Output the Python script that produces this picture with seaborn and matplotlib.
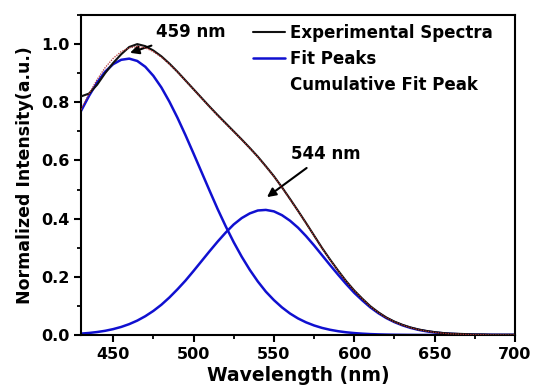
import numpy as np
import pandas as pd
import matplotlib
matplotlib.use("Agg")
import matplotlib.pyplot as plt
import seaborn as sns
from matplotlib.lines import Line2D
from matplotlib.ticker import MultipleLocator

wavelength = list(range(430, 705, 5))

experimental = [0.820, 0.830, 0.860, 0.900, 0.935, 0.965, 0.990, 1.000, 0.993, 0.978,
                0.958, 0.933, 0.905, 0.875, 0.845, 0.815, 0.785, 0.756, 0.728, 0.700,
                0.672, 0.643, 0.613, 0.580, 0.546, 0.508, 0.468, 0.427, 0.385, 0.342,
                0.299, 0.259, 0.221, 0.185, 0.153, 0.125, 0.099, 0.078, 0.060, 0.046,
                0.035, 0.026, 0.019, 0.014, 0.010, 0.007, 0.005, 0.004, 0.003, 0.002,
                0.002, 0.001, 0.001, 0.001, 0.001]

peak1 = [0.770, 0.822, 0.868, 0.905, 0.931, 0.946, 0.950, 0.942, 0.922, 0.891,
         0.851, 0.802, 0.747, 0.687, 0.624, 0.560, 0.496, 0.433, 0.374, 0.319,
         0.269, 0.224, 0.184, 0.149, 0.120, 0.095, 0.074, 0.057, 0.0435, 0.0328,
         0.0243, 0.0179, 0.0130, 0.0093, 0.0066, 0.0046, 0.0031, 0.0021, 0.0014, 0.0009,
         0.0006, 0.0004, 0.0002, 0.0001, 0.0001, 0.0, 0.0, 0.0, 0.0, 0.0,
         0.0, 0.0, 0.0, 0.0, 0.0]

peak2 = [0.0048, 0.0070, 0.0102, 0.0144, 0.0202, 0.0277, 0.0374, 0.0495, 0.0646, 0.0827,
         0.104, 0.129, 0.157, 0.187, 0.220, 0.254, 0.288, 0.321, 0.352, 0.380,
         0.402, 0.418, 0.428, 0.430, 0.425, 0.412, 0.393, 0.369, 0.340, 0.308,
         0.274, 0.240, 0.207, 0.175, 0.145, 0.119, 0.095, 0.075, 0.058, 0.0443,
         0.0332, 0.0245, 0.0177, 0.0126, 0.0088, 0.0060, 0.0041, 0.0027, 0.0018, 0.0011,
         0.0007, 0.0004, 0.0002, 0.0001, 0.0001]

cumulative = [0.775, 0.829, 0.878, 0.919, 0.951, 0.974, 0.987, 0.992, 0.987, 0.974,
              0.955, 0.931, 0.904, 0.874, 0.844, 0.814, 0.784, 0.754, 0.726, 0.699,
              0.671, 0.642, 0.612, 0.579, 0.545, 0.507, 0.467, 0.426, 0.384, 0.341,
              0.298, 0.258, 0.220, 0.184, 0.152, 0.124, 0.098, 0.077, 0.059, 0.045,
              0.034, 0.025, 0.018, 0.013, 0.009, 0.006, 0.004, 0.003, 0.002, 0.001,
              0.001, 0.0, 0.0, 0.0, 0.0]

legend_labels = ["Experimental Spectra", "Fit Peaks", "Cumulative Fit Peak"]
x_ticks = [450, 500, 550, 600, 650, 700]
y_ticks = [0.0, 0.2, 0.4, 0.6, 0.8, 1.0]

sns.set_style("ticks")
plt.rcParams['font.family'] = ['DejaVu Sans']
plt.rcParams['font.weight'] = 'bold'
for k in ['text.color', 'axes.labelcolor', 'xtick.color', 'ytick.color']:
    plt.rcParams[k] = 'black'

fig = plt.figure(figsize=(5.35, 3.92), dpi=100)
ax = fig.add_axes([81/535, 57/392, 434/535, 320/392])

df = pd.DataFrame({"wl": wavelength, "exp": experimental, "p1": peak1,
                   "p2": peak2, "cum": cumulative})

sns.lineplot(data=df, x="wl", y="p1", ax=ax, color="#1010d0", lw=1.8, zorder=2)
sns.lineplot(data=df, x="wl", y="p2", ax=ax, color="#1010d0", lw=1.8, zorder=2)
sns.lineplot(data=df, x="wl", y="exp", ax=ax, color="#111111", lw=1.5, zorder=3)
sns.lineplot(data=df, x="wl", y="cum", ax=ax, color="#b03030", lw=0.9, zorder=4,
             linestyle=(0, (1, 1)))

ax.set_xlim(430, 700)
ax.set_ylim(0, 1.1)
ax.set_xticks(x_ticks)
ax.set_yticks(y_ticks)
ax.set_yticklabels([f"{v:.1f}" for v in y_ticks])
ax.xaxis.set_minor_locator(MultipleLocator(25))
ax.yaxis.set_minor_locator(MultipleLocator(0.1))
ax.tick_params(axis="both", which="major", direction="out", length=5, width=1.5,
               labelsize=11.5, colors="black")
ax.tick_params(axis="both", which="minor", direction="out", length=3, width=1.3,
               colors="black")
for lab in ax.get_xticklabels() + ax.get_yticklabels():
    lab.set_fontweight("bold")
for s in ax.spines.values():
    s.set_linewidth(1.5)
    s.set_color("black")

ax.set_xlabel("Wavelength (nm)", fontsize=13.5, fontweight="bold", labelpad=3)
ax.set_ylabel("Normalized Intensity(a.u.)", fontsize=12.5, fontweight="bold", labelpad=5)

handles = [Line2D([], [], color="#111111", lw=1.5),
           Line2D([], [], color="#1010d0", lw=1.8),
           Line2D([], [], color="#c03030", lw=0.0, alpha=0)]
leg = ax.legend(handles, legend_labels, loc="upper left",
                bbox_to_anchor=(0.396, 0.971), frameon=False, fontsize=12,
                handlelength=1.9, handletextpad=0.3, labelspacing=0.48,
                borderpad=0, borderaxespad=0)
for t in leg.get_texts():
    t.set_fontweight("bold")
    t.set_color("black")

ax.annotate("459 nm", xy=(460.5, 0.97), xytext=(476.5, 1.04),
            fontsize=12, fontweight="bold", va="center", ha="left", color="black",
            arrowprops=dict(arrowstyle="-|>", color="black", lw=1.5,
                            mutation_scale=13, shrinkA=2, shrinkB=0))
ax.annotate("544 nm", xy=(545.7, 0.474), xytext=(560.5, 0.622),
            fontsize=12, fontweight="bold", va="center", ha="left", color="black",
            arrowprops=dict(arrowstyle="-|>", color="black", lw=1.5,
                            mutation_scale=13, shrinkA=2, shrinkB=0))

fig.savefig("out.png", dpi=100)
